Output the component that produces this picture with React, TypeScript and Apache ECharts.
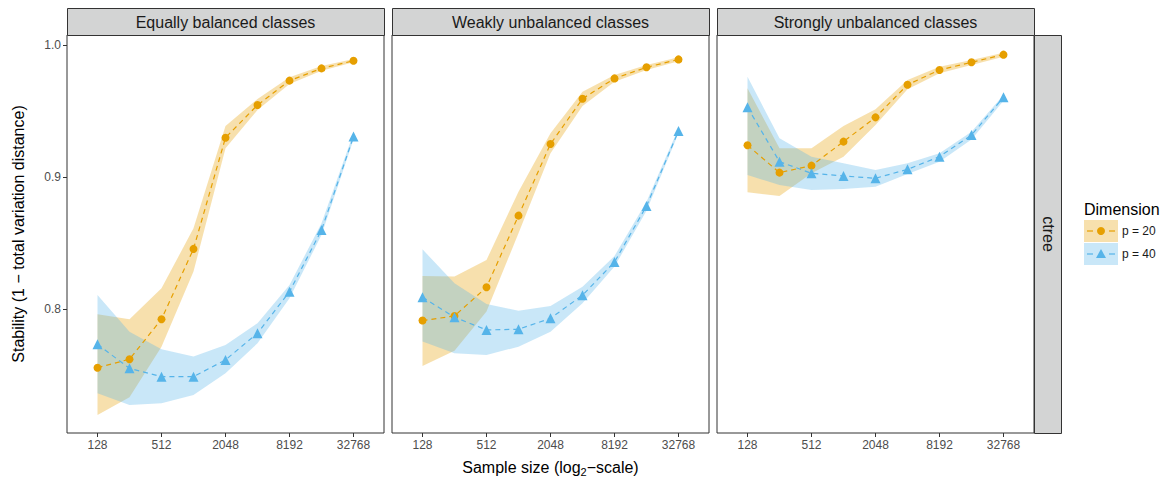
import React, { useEffect, useRef } from "react";
import * as echarts from "echarts";

// ---- data ----
const sampleSizes = [128, 256, 512, 1024, 2048, 4096, 8192, 16384, 32768];
const xTickSizes = [128, 512, 2048, 8192, 32768];
const yTickValues = [0.8, 0.9, 1.0];
const panelTitles = ["Equally balanced classes", "Weakly unbalanced classes", "Strongly unbalanced classes"];
const rowTitle = "ctree";
const seriesNames = ["p = 20", "p = 40"];

// Equally balanced
const eqP20Mean = [0.7555, 0.7619, 0.7922, 0.8455, 0.9298, 0.9545, 0.973, 0.9823, 0.9881];
const eqP20Lo = [0.7197, 0.733, 0.7714, 0.8283, 0.9217, 0.9508, 0.9705, 0.9805, 0.9869];
const eqP20Hi = [0.796, 0.7922, 0.8157, 0.8611, 0.9386, 0.9591, 0.9755, 0.9841, 0.9894];
const eqP40Mean = [0.7732, 0.755, 0.7487, 0.7487, 0.7614, 0.7816, 0.8131, 0.8598, 0.9306];
const eqP40Lo = [0.7361, 0.7273, 0.7285, 0.7348, 0.7513, 0.774, 0.8081, 0.8561, 0.9285];
const eqP40Hi = [0.8106, 0.7828, 0.7695, 0.7639, 0.7727, 0.7892, 0.8182, 0.8649, 0.9331];

// Weakly unbalanced
const wkP20Mean = [0.7912, 0.7947, 0.8164, 0.8707, 0.925, 0.9593, 0.9747, 0.9831, 0.9891];
const wkP20Lo = [0.7568, 0.7684, 0.798, 0.8573, 0.918, 0.9538, 0.9722, 0.9811, 0.9877];
const wkP20Hi = [0.825, 0.8245, 0.8371, 0.8889, 0.9331, 0.9646, 0.9773, 0.9848, 0.9907];
const wkP40Mean = [0.8089, 0.7937, 0.7841, 0.7846, 0.7929, 0.8104, 0.8356, 0.878, 0.9348];
const wkP40Lo = [0.7753, 0.7664, 0.7652, 0.7714, 0.7828, 0.8043, 0.8321, 0.8745, 0.9331];
const wkP40Hi = [0.8452, 0.8194, 0.8038, 0.7987, 0.8023, 0.8169, 0.8402, 0.8813, 0.9369];

// Strongly unbalanced
const stP20Mean = [0.924, 0.9033, 0.9086, 0.9268, 0.9452, 0.9699, 0.9811, 0.9869, 0.9927];
const stP20Lo = [0.8884, 0.8856, 0.9028, 0.9154, 0.9394, 0.9664, 0.9786, 0.9848, 0.9912];
const stP20Hi = [0.9672, 0.9217, 0.9217, 0.9386, 0.9513, 0.9735, 0.9836, 0.9886, 0.9942];
const stP40Mean = [0.9528, 0.9116, 0.9028, 0.9008, 0.899, 0.9058, 0.9154, 0.9318, 0.9604];
const stP40Lo = [0.9015, 0.8939, 0.8902, 0.8909, 0.8927, 0.9023, 0.9116, 0.9285, 0.9578];
const stP40Hi = [0.976, 0.9293, 0.9154, 0.9104, 0.9053, 0.9104, 0.918, 0.9343, 0.9621];

const panelData = [
  [
    { mean: eqP20Mean, lo: eqP20Lo, hi: eqP20Hi },
    { mean: eqP40Mean, lo: eqP40Lo, hi: eqP40Hi },
  ],
  [
    { mean: wkP20Mean, lo: wkP20Lo, hi: wkP20Hi },
    { mean: wkP40Mean, lo: wkP40Lo, hi: wkP40Hi },
  ],
  [
    { mean: stP20Mean, lo: stP20Lo, hi: stP20Hi },
    { mean: stP40Mean, lo: stP40Lo, hi: stP40Hi },
  ],
];

// ---- styles / layout ----
const COLORS = ["#E69F00", "#56B4E9"];
const FILLS = ["rgba(230,159,0,0.32)", "rgba(86,180,233,0.32)"];
const SYMBOLS = ["circle", "triangle"];
const SYMBOL_SIZES = [8, 10];
const FONT = "'Liberation Sans', Arial, Helvetica, sans-serif";
const PANEL_LEFTS = [67, 392, 717];
const PANEL_W = 317;
const PANEL_TOP = 35;
const PANEL_H = 398;
const STRIP_TOP = 8;
const X_MIN = 6.047;
const X_MAX = 15.953;
const Y_MIN = 0.706;
const Y_MAX = 1.0076;

function buildOption() {
  const grids = PANEL_LEFTS.map((left) => ({
    left,
    top: PANEL_TOP,
    width: PANEL_W,
    height: PANEL_H,
    show: true,
    borderColor: "#333333",
    borderWidth: 1,
    backgroundColor: "transparent",
    containLabel: false,
  }));

  const xTicks = xTickSizes.map((n) => Math.log2(n));
  const xAxes = PANEL_LEFTS.map((_, i) => ({
    type: "value",
    gridIndex: i,
    min: X_MIN,
    max: X_MAX,
    axisLine: { show: false },
    splitLine: { show: false },
    axisTick: { show: true, customValues: xTicks, length: 4, lineStyle: { color: "#333333", width: 1 } },
    axisLabel: {
      show: true,
      customValues: xTicks,
      margin: 6,
      color: "#4D4D4D",
      fontSize: 12,
      fontFamily: FONT,
      formatter: (v: number) => String(Math.round(Math.pow(2, v))),
    },
  }));

  const yAxes = PANEL_LEFTS.map((_, i) => ({
    type: "value",
    gridIndex: i,
    min: Y_MIN,
    max: Y_MAX,
    axisLine: { show: false },
    splitLine: { show: false },
    axisTick: {
      show: i === 0,
      customValues: yTickValues,
      length: 4,
      lineStyle: { color: "#333333", width: 1 },
    },
    axisLabel: {
      show: i === 0,
      customValues: yTickValues,
      margin: 6,
      color: "#4D4D4D",
      fontSize: 12,
      fontFamily: FONT,
      formatter: (v: number) => v.toFixed(1),
    },
  }));

  const series: any[] = [];
  const xs = sampleSizes.map((n) => Math.log2(n));
  panelData.forEach((panel, pi) => {
    panel.forEach((s, si) => {
      series.push({
        type: "custom",
        name: seriesNames[si] + " band",
        xAxisIndex: pi,
        yAxisIndex: pi,
        silent: true,
        z: 1,
        data: xs.map((x, k) => [x, s.lo[k], s.hi[k]]),
        encode: { x: 0, y: [1, 2] },
        renderItem: (params: any, api: any) => {
          if (params.dataIndex !== 0) return null;
          const upper = xs.map((x, k) => api.coord([x, s.hi[k]]));
          const lower = xs.map((x, k) => api.coord([x, s.lo[k]])).reverse();
          return {
            type: "polygon",
            shape: { points: upper.concat(lower) },
            style: { fill: FILLS[si], stroke: "none" },
          };
        },
      });
    });
  });
  panelData.forEach((panel, pi) => {
    panel.forEach((s, si) => {
      series.push({
        type: "line",
        name: seriesNames[si],
        xAxisIndex: pi,
        yAxisIndex: pi,
        z: 2 + si,
        data: xs.map((x, k) => [x, s.mean[k]]),
        symbol: SYMBOLS[si],
        symbolSize: SYMBOL_SIZES[si],
        showSymbol: true,
        itemStyle: { color: COLORS[si], borderWidth: 0 },
        lineStyle: { color: COLORS[si], width: 1.2, type: [5, 4] },
        emphasis: { disabled: true },
      });
    });
  });

  const graphic: any[] = [];
  // top strips
  PANEL_LEFTS.forEach((left, i) => {
    graphic.push({
      type: "rect",
      shape: { x: left + 0.5, y: STRIP_TOP + 0.5, width: PANEL_W, height: PANEL_TOP - STRIP_TOP },
      style: { fill: "#D3D4D4", stroke: "#333333", lineWidth: 1 },
      z: 10,
    });
    graphic.push({
      type: "text",
      x: left + PANEL_W / 2,
      y: (STRIP_TOP + PANEL_TOP) / 2 + 1,
      style: {
        text: panelTitles[i],
        fontSize: 16,
        fontFamily: FONT,
        fill: "#1A1A1A",
        textAlign: "center",
        textVerticalAlign: "middle",
      },
      z: 11,
    });
  });
  // right strip
  const rsLeft = PANEL_LEFTS[2] + PANEL_W;
  graphic.push({
    type: "rect",
    shape: { x: rsLeft + 0.5, y: PANEL_TOP + 0.5, width: 27, height: PANEL_H },
    style: { fill: "#D3D4D4", stroke: "#333333", lineWidth: 1 },
    z: 10,
  });
  graphic.push({
    type: "text",
    x: rsLeft + 14,
    y: PANEL_TOP + PANEL_H / 2,
    rotation: -Math.PI / 2,
    style: {
      text: rowTitle,
      fontSize: 16,
      fontFamily: FONT,
      fill: "#1A1A1A",
      textAlign: "center",
      textVerticalAlign: "middle",
    },
    z: 11,
  });
  // axis titles
  graphic.push({
    type: "text",
    x: 18,
    y: PANEL_TOP + PANEL_H / 2,
    rotation: Math.PI / 2,
    style: {
      text: "Stability (1 \u2212 total variation distance)",
      fontSize: 16,
      fontFamily: FONT,
      fill: "#000000",
      textAlign: "center",
      textVerticalAlign: "middle",
    },
  });
  graphic.push({
    type: "text",
    x: (PANEL_LEFTS[0] + PANEL_LEFTS[2] + PANEL_W) / 2,
    y: 467,
    style: {
      text: "{a|Sample size (log}{s|2}{a|\u2212scale)}",
      fontFamily: FONT,
      fill: "#000000",
      textAlign: "center",
      textVerticalAlign: "middle",
      rich: {
        a: { fontSize: 16, fontFamily: FONT, fill: "#000000", lineHeight: 20, verticalAlign: "middle" },
        s: { fontSize: 11, fontFamily: FONT, fill: "#000000", lineHeight: 20, verticalAlign: "bottom" },
      },
    },
  });
  // legend
  const lgX = 1084;
  graphic.push({
    type: "text",
    x: lgX,
    y: 209,
    style: { text: "Dimension", fontSize: 16, fontFamily: FONT, fill: "#000000", textAlign: "left", textVerticalAlign: "middle" },
  });
  const keyTops = [220, 243];
  keyTops.forEach((top, si) => {
    const cy = top + 11;
    graphic.push({
      type: "rect",
      shape: { x: lgX, y: top, width: 34, height: 22 },
      style: { fill: FILLS[si], stroke: "none" },
    });
    graphic.push({
      type: "line",
      shape: { x1: lgX + 3, y1: cy, x2: lgX + 9, y2: cy },
      style: { stroke: COLORS[si], lineWidth: 1.2 },
    });
    graphic.push({
      type: "line",
      shape: { x1: lgX + 25, y1: cy, x2: lgX + 31, y2: cy },
      style: { stroke: COLORS[si], lineWidth: 1.2 },
    });
    if (si === 0) {
      graphic.push({ type: "circle", shape: { cx: lgX + 17, cy, r: 4 }, style: { fill: COLORS[si] } });
    } else {
      graphic.push({
        type: "polygon",
        shape: { points: [[lgX + 17, cy - 5], [lgX + 22, cy + 4], [lgX + 12, cy + 4]] },
        style: { fill: COLORS[si] },
      });
    }
    graphic.push({
      type: "text",
      x: lgX + 38,
      y: cy,
      style: { text: seriesNames[si], fontSize: 12, fontFamily: FONT, fill: "#1A1A1A", textAlign: "left", textVerticalAlign: "middle" },
    });
  });

  return {
    animation: false,
    backgroundColor: "#FFFFFF",
    grid: grids,
    xAxis: xAxes,
    yAxis: yAxes,
    series,
    graphic,
    tooltip: { show: false },
  };
}

export default function App() {
  const ref = useRef<HTMLDivElement>(null);
  useEffect(() => {
    document.body.style.margin = "0";
    document.body.style.padding = "0";
    document.documentElement.style.margin = "0";
    if (!ref.current) return;
    const chart = echarts.init(ref.current, null, { renderer: "svg" });
    chart.setOption(buildOption() as any);
    return () => chart.dispose();
  }, []);
  return (
    <div
      ref={ref}
      style={{ position: "absolute", left: 0, top: 0, width: "1165px", height: "482px", background: "#fff", overflow: "hidden" }}
    />
  );
}
